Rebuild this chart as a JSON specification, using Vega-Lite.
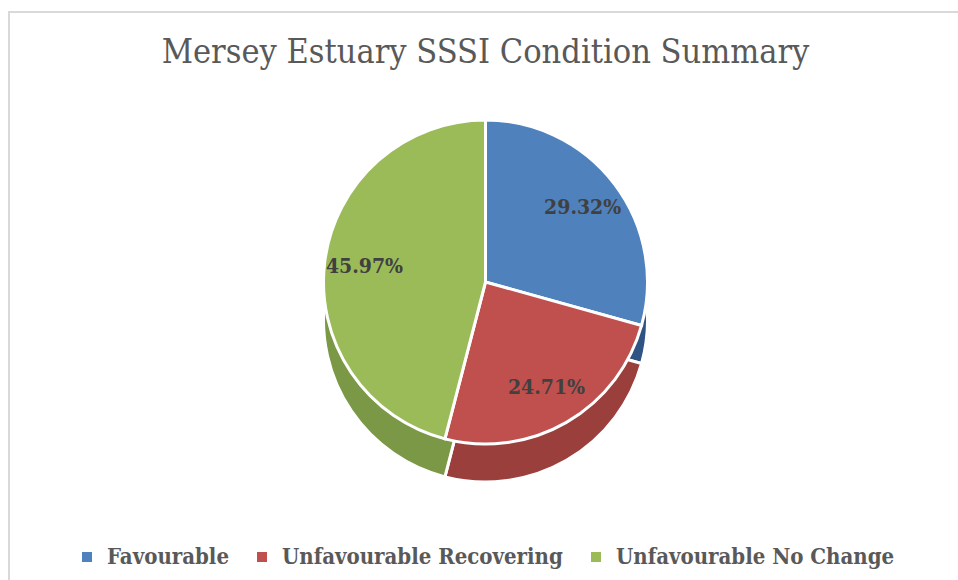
{
  "$schema": "https://vega.github.io/schema/vega-lite/v6.json",
  "width": 958,
  "height": 580,
  "autosize": {"type": "fit", "contains": "padding"},
  "padding": {"left": 9, "top": 12, "right": -4, "bottom": -4},
  "background": "white",
  "view": {"stroke": "#d9d9d9", "strokeWidth": 2},
  "title": {
    "text": "Mersey Estuary SSSI Condition Summary",
    "font": "DejaVu Serif Condensed",
    "fontSize": 34,
    "fontWeight": "normal",
    "color": "#595959",
    "offset": -58
  },
  "data": {
    "values": [
      {"category": "Favourable", "percent": 29.32, "label": "29.32%", "order": 1},
      {"category": "Unfavourable Recovering", "percent": 24.71, "label": "24.71%", "order": 2},
      {"category": "Unfavourable No Change", "percent": 45.97, "label": "45.97%", "order": 3}
    ]
  },
  "encoding": {
    "theta": {"field": "percent", "type": "quantitative", "stack": true},
    "order": {"field": "order", "type": "quantitative"}
  },
  "layer": [
    {
      "mark": {"type": "arc", "radius": 162, "yOffset": 22, "stroke": "white", "strokeWidth": 3},
      "encoding": {
        "fill": {
          "field": "category",
          "type": "nominal",
          "scale": {
            "domain": ["Favourable", "Unfavourable Recovering", "Unfavourable No Change"],
            "range": ["#2F5383", "#9A3F3C", "#7A9846"]
          },
          "legend": null
        }
      }
    },
    {
      "mark": {"type": "arc", "radius": 162, "yOffset": -16, "stroke": "white", "strokeWidth": 3},
      "encoding": {
        "color": {
          "field": "category",
          "type": "nominal",
          "scale": {
            "domain": ["Favourable", "Unfavourable Recovering", "Unfavourable No Change"],
            "range": ["#4F81BD", "#C0504D", "#9BBB59"]
          },
          "legend": {
            "title": null,
            "orient": "bottom",
            "direction": "horizontal",
            "offset": -38,
            "symbolType": "square",
            "symbolSize": 100,
            "symbolStrokeWidth": 0,
            "labelFont": "DejaVu Serif Condensed",
            "labelFontSize": 22,
            "labelFontWeight": "bold",
            "labelColor": "#595959",
            "labelLimit": 400,
            "columnPadding": 22,
            "labelOffset": 9
          }
        }
      }
    },
    {
      "mark": {
        "type": "text",
        "radius": 122,
        "yOffset": -16,
        "font": "DejaVu Serif Condensed",
        "fontSize": 21,
        "fontWeight": "bold",
        "fill": "#404040"
      },
      "encoding": {"text": {"field": "label", "type": "nominal"}}
    }
  ],
  "resolve": {"scale": {"color": "independent", "fill": "independent"}},
  "config": {
    "view": {"stroke": "#d9d9d9", "strokeWidth": 2},
    "legend": {"layout": {"bottom": {"anchor": "middle"}}}
  }
}
